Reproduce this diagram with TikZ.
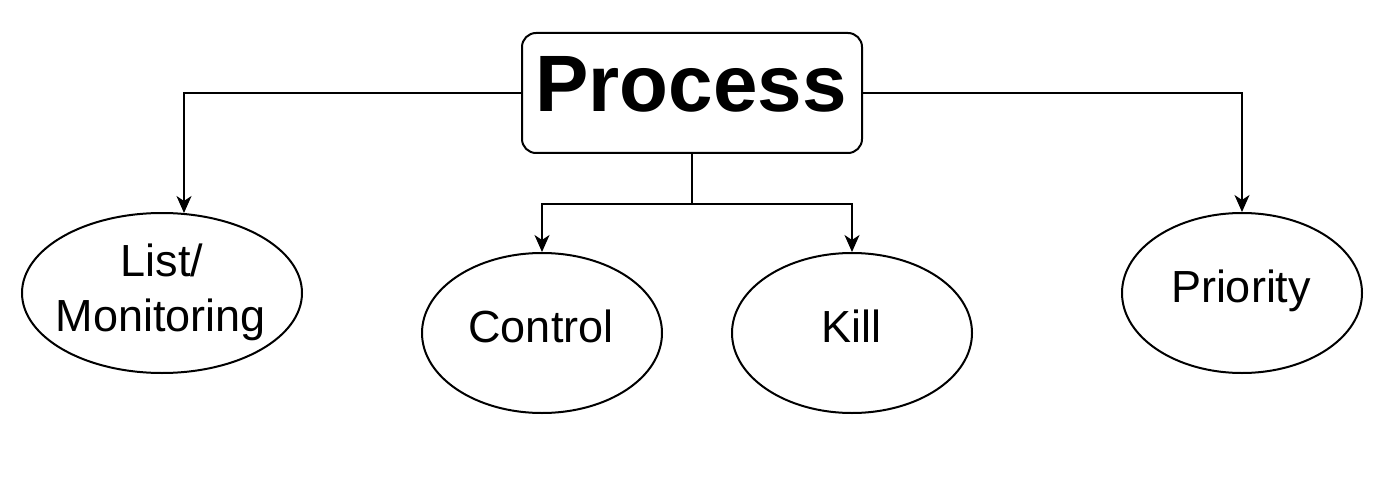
\documentclass[tikz,border=0pt]{standalone}
\usepackage{fontspec}
\setmainfont{Liberation Sans}
\usetikzlibrary{shapes.geometric,arrows.meta}
\begin{document}
\begin{tikzpicture}[x=1pt,y=-1pt,
  lw/.style={line width=2pt},
  oval/.style={ellipse,draw,lw,inner sep=0pt},
  lbl/.style={anchor=base,inner sep=0pt,font=\fontsize{45}{54}\selectfont},
  conn/.style={lw,-{Stealth[length=17pt,width=15pt,inset=5pt]}}]
\useasboundingbox (0,0) rectangle (1392,500);
\node[draw,lw,rounded corners=14pt,minimum width=340pt,minimum height=120pt,inner sep=0pt] (proc) at (692,93) {};
\node[font=\fontsize{80}{96}\selectfont\bfseries,anchor=base,inner sep=0pt] (proct) at (691,112) {Process};
\node[oval,minimum width=280pt,minimum height=160pt] (list) at (162,293) {};
\node[oval,minimum width=240pt,minimum height=160pt] (ctrl) at (542,333) {};
\node[oval,minimum width=240pt,minimum height=160pt] (kill) at (852,333) {};
\node[oval,minimum width=240pt,minimum height=160pt] (prio) at (1242,293) {};
\node[lbl] (listt1) at (162,276) {List/};
\node[lbl] (listt2) at (161,331) {Monitoring};
\node[lbl] (ctrlt) at (541,342) {Control};
\node[lbl] (killt) at (851,342) {Kill};
\node[lbl] (priot) at (1241,302) {Priority};
\draw[conn] (proc.west) -| ([xshift=22pt,yshift=-1pt]list.north);
\draw[conn] (proc.east) -| (prio.north);
\draw[conn] (proc.south) -- ++(0,50) -| (ctrl.north);
\draw[conn] (proc.south) -- ++(0,50) -| (kill.north);
\end{tikzpicture}
\end{document}
